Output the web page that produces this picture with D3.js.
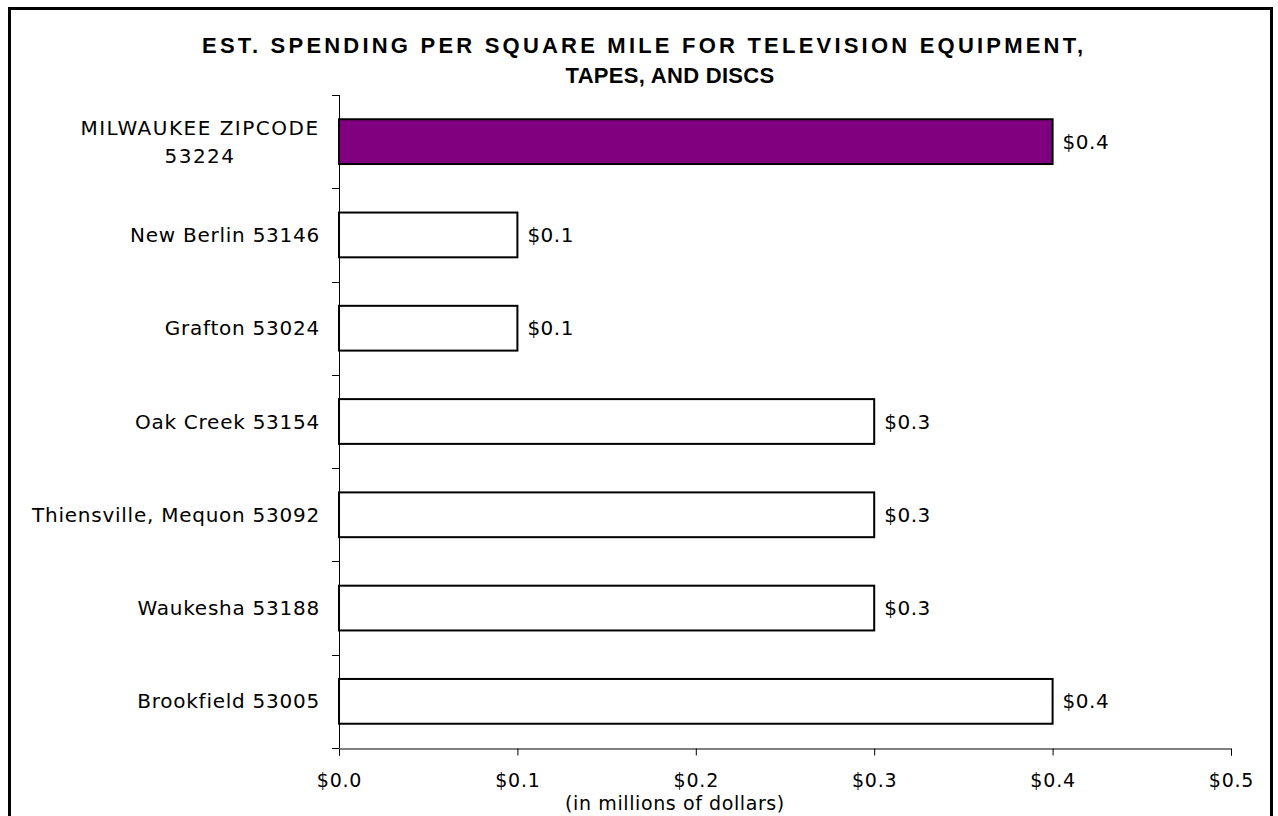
<!DOCTYPE html>
<html>
<head>
<meta charset="utf-8">
<script src="https://cdn.jsdelivr.net/npm/d3@7"></script>
<style>
  body { margin: 0; background: #fff; }
  text { font-family: "DejaVu Sans", Verdana, sans-serif; fill: #000; }
</style>
</head>
<body>
<div id="chart"></div>
<script>
// data
var categories = ["MILWAUKEE ZIPCODE 53224", "New Berlin 53146", "Grafton 53024", "Oak Creek 53154",
    "Thiensville, Mequon 53092", "Waukesha 53188", "Brookfield 53005"]
var values = [0.4, 0.1, 0.1, 0.3, 0.3, 0.3, 0.4]
var tickValues = [0, 0.1, 0.2, 0.3, 0.4, 0.5]
var titleLines = ["EST. SPENDING PER SQUARE MILE FOR TELEVISION EQUIPMENT,", "TAPES, AND DISCS"]
var highlight = "MILWAUKEE ZIPCODE 53224"

var width = 1278
var height = 816

var svg = d3.select("#chart")
    .append("svg")
    .attr("width", width)
    .attr("height", height)

// outer frame
svg.append("rect")
    .attr("x", 9.5)
    .attr("y", 8.5)
    .attr("width", 1262)
    .attr("height", 820)
    .attr("fill", "none")
    .attr("stroke", "#000")
    .attr("stroke-width", 3)

// title: first line stretched to its width in the original, second line centred
var title = svg.selectAll(".title")
    .data(titleLines)
    .enter()
    .append("text")
    .attr("class", "title")
    .attr("y", (d, i) => 53 + i * 30)
    .style("font-family", "'Liberation Sans', Arial, sans-serif")
    .style("font-size", "22px")
    .style("font-weight", "bold")
    .text(d => d)

title.filter((d, i) => i == 0)
    .attr("x", 202)
    .attr("textLength", 881)
    .attr("lengthAdjust", "spacing")
title.filter((d, i) => i == 1)
    .attr("x", 670)
    .attr("text-anchor", "middle")
    .style("letter-spacing", "0.3px")

var x = d3.scaleLinear()
    .domain([0, 0.5])
    .range([339, 1231])

var y = d3.scaleBand()
    .domain(categories)
    .range([95, 748])
    .paddingInner(0.52)
    .paddingOuter(0.26)

// y axis: line with ticks at band edges
var g = svg.append("g")

g.append("line")
    .attr("x1", x(0) + 0.5).attr("x2", x(0) + 0.5)
    .attr("y1", 95).attr("y2", 748)
    .attr("stroke", "#000")

var edges = d3.range(categories.length + 1).map(i => 95 + i * (748 - 95) / categories.length)
g.selectAll(".ytick")
    .data(edges)
    .enter()
    .append("line")
    .attr("x1", x(0) - 7).attr("x2", x(0))
    .attr("y1", d => Math.round(d) + 0.5).attr("y2", d => Math.round(d) + 0.5)
    .attr("stroke", "#000")

// x axis
var xAxis = svg.append("g")
    .attr("transform", "translate(0,748.5)")
    .call(d3.axisBottom(x)
        .tickValues(tickValues)
        .tickSize(7)
        .tickFormat(d => "$" + d3.format(".1f")(d)))
xAxis.select(".domain").attr("stroke", "#000")
xAxis.selectAll(".tick line").attr("stroke", "#000")
xAxis.selectAll(".tick text")
    .attr("y", 38.5)
    .attr("dy", 0)
    .style("font-size", "19px")
    .style("font-family", "DejaVu Sans")
    .style("letter-spacing", "0.8px")

svg.append("text")
    .attr("x", 675)
    .attr("y", 810)
    .attr("text-anchor", "middle")
    .style("font-size", "19px")
    .style("letter-spacing", "0.6px")
    .text("(in millions of dollars)")

// bars
svg.selectAll(".bar")
    .data(categories)
    .enter()
    .append("rect")
    .attr("class", "bar")
    .attr("x", x(0))
    .attr("y", d => y(d))
    .attr("width", (d, i) => x(values[i]) - x(0))
    .attr("height", y.bandwidth())
    .attr("fill", d => d == highlight ? "#800080" : "#fff")
    .attr("stroke", "#000")
    .attr("stroke-width", 2)

// value labels
svg.selectAll(".val")
    .data(categories)
    .enter()
    .append("text")
    .attr("x", (d, i) => x(values[i]) + 10)
    .attr("y", d => y(d) + y.bandwidth() / 2)
    .attr("dy", "0.35em")
    .style("font-size", "20px")
    .style("letter-spacing", "0.5px")
    .text((d, i) => "$" + d3.format(".1f")(values[i]))

// category labels (the long one wraps onto two lines)
var labels = svg.selectAll(".cat")
    .data(categories)
    .enter()
    .append("text")
    .style("font-size", "20px")
    .style("letter-spacing", d => d == highlight ? "1.5px" : "0.75px")
    .attr("transform", d => "translate(0," + (y(d) + y.bandwidth() / 2) + ")")

labels.each(function (d) {
    var t = d3.select(this)
    if (d == highlight) {
        t.attr("text-anchor", "middle")
        t.append("tspan").attr("x", 200).attr("dy", -7).text("MILWAUKEE ZIPCODE")
        t.append("tspan").attr("x", 200).attr("dy", 28).text("53224")
    } else {
        t.attr("text-anchor", "end")
        t.append("tspan").attr("x", 320).attr("dy", "0.35em").text(d)
    }
})
</script>
</body>
</html>
